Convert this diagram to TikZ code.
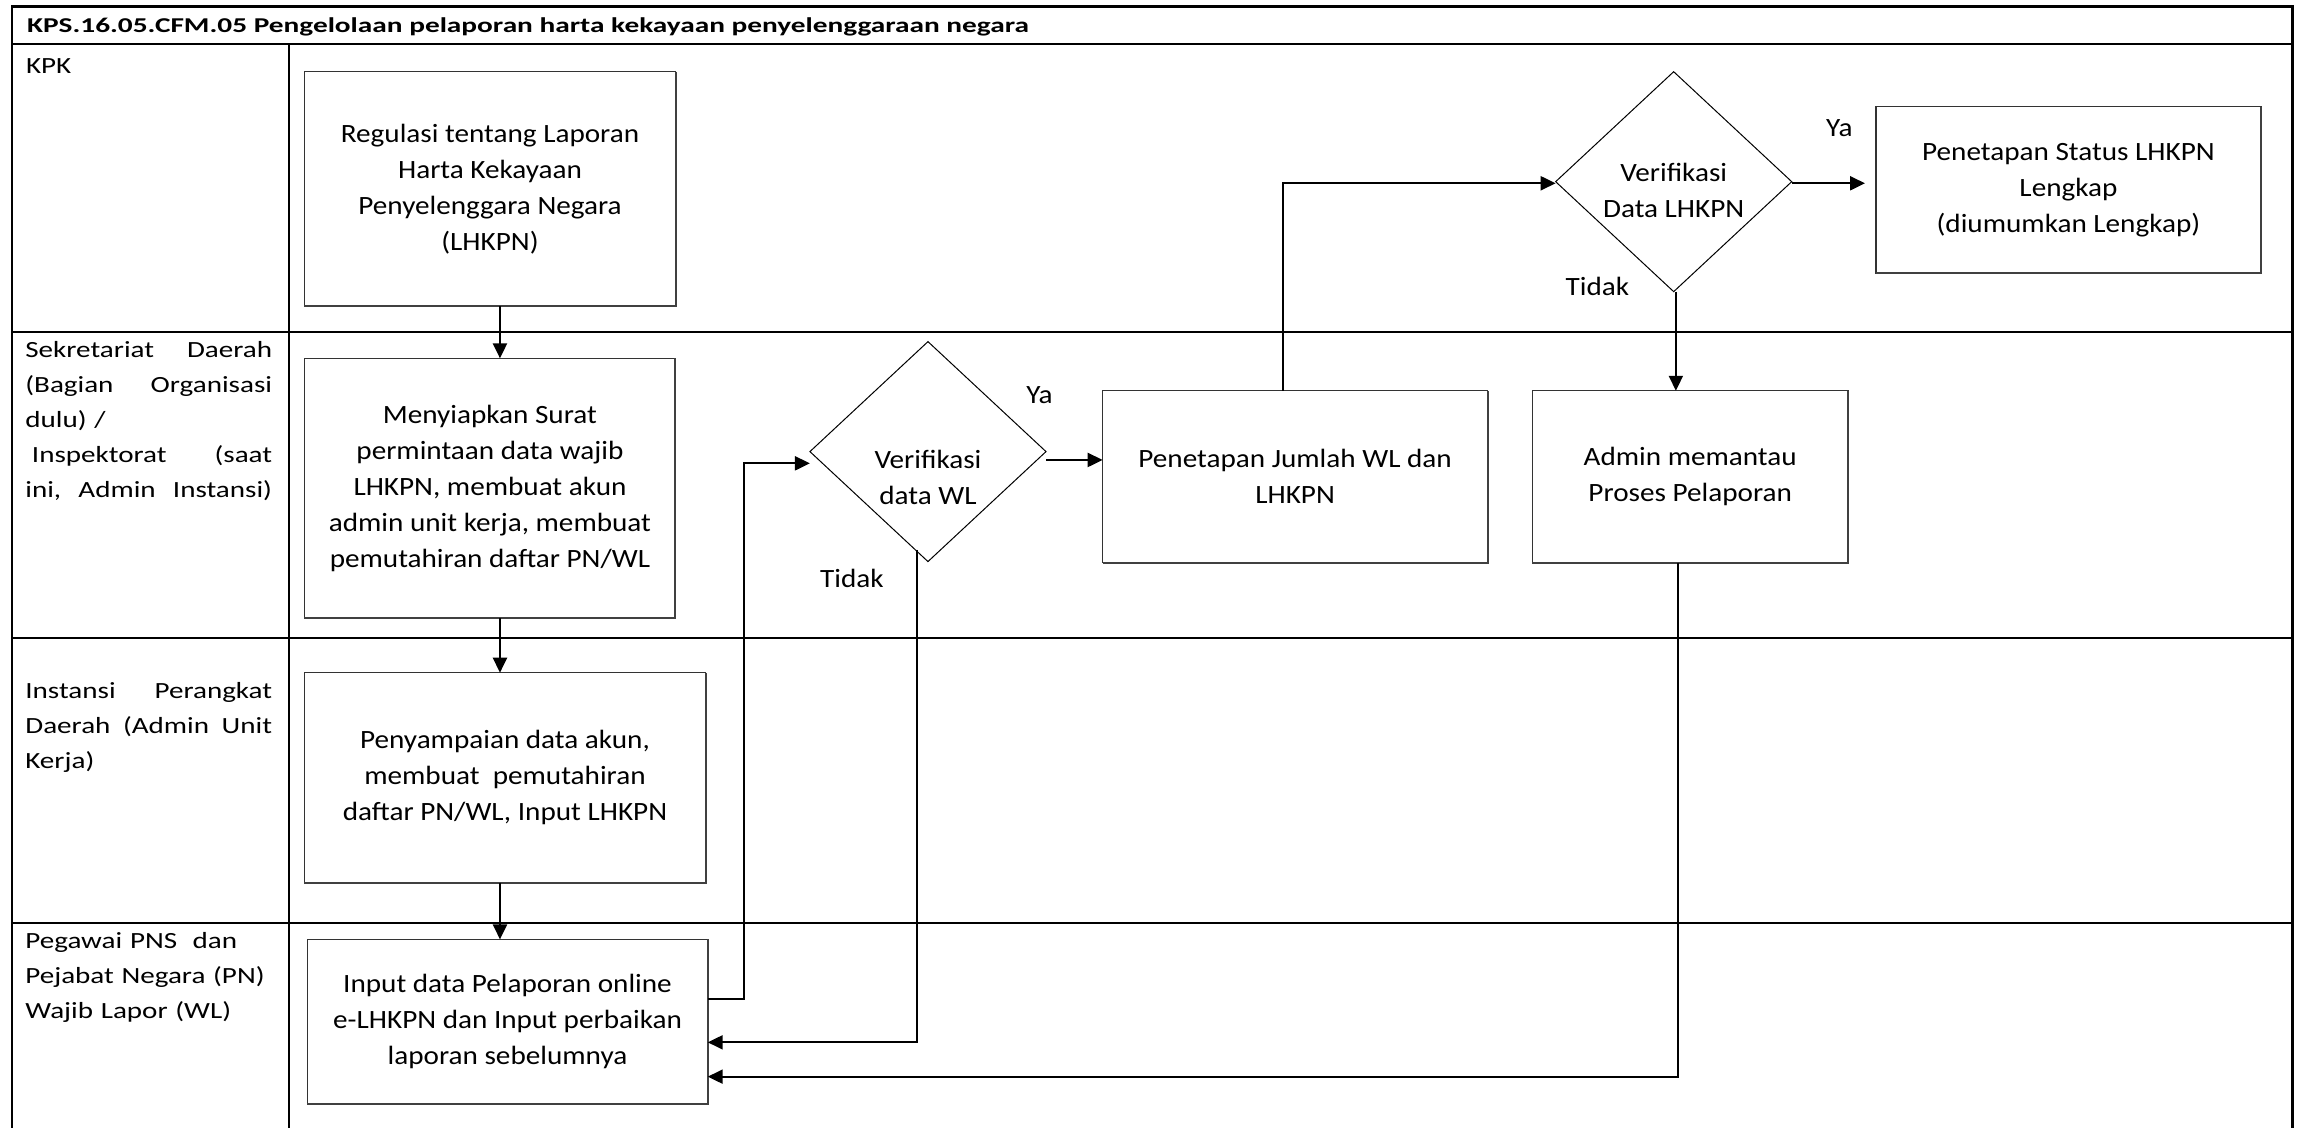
\documentclass[tikz,border=0pt]{standalone}
\usepackage{fontspec}
\setmainfont{Carlito}
\newfontfamily\boxff{Carlito}[FakeStretch=1.106]
\newfontfamily\laneff{Carlito}[FakeStretch=1.254]
\newfontfamily\titleff{Carlito}[FakeStretch=1.39]
\usetikzlibrary{arrows.meta,shapes.geometric}
\newcommand\boxfs{\boxff\fontsize{13.2}{18}\selectfont}
\newcommand\lanefs{\laneff\fontsize{11.6}{17.5}\selectfont}
\newcommand\titlefs{\titleff\bfseries\fontsize{10.55}{13}\selectfont}
\newcommand\jl[1]{\leavevmode\hbox to 123.4pt{#1}}
\def\uu{0.7334pt}
\begin{document}
\begin{tikzpicture}[x=0.7334pt,y=-0.7334pt,
  lanel/.style={line width=1.1pt},
  procbox/.style={draw=black!80, line width=0.6pt, align=center, inner sep=0pt, outer sep=0pt, font=\boxfs},
  boxedge/.style={draw=black!75, line width=1pt},
  decis/.style={diamond, draw, line width=0.5pt, inner sep=0pt, outer sep=0pt, minimum width={161*\uu}, minimum height={150*\uu}},
  flow/.style={line width=1.1pt, -{Triangle[length=7.5pt,width=7pt]}},
  lanetxt/.style={anchor=base west, inner sep=0pt, font=\lanefs, text width=123.4pt, align=left},
  note/.style={inner sep=0pt, font=\boxfs}
]
\useasboundingbox (0,0) rectangle (1568,769);

% swimlane frame
\draw[lanel, line width=1.2pt] (8,769) -- (8,4.5) -- (1563.6,4.5) -- (1563.6,769);
\draw[lanel, line width=1.2pt] (8,29.8) -- (1563.6,29.8);
\draw[lanel] (8,226.7) -- (1563.6,226.7);
\draw[lanel] (8,434.9) -- (1563.6,434.9);
\draw[lanel] (8,629.3) -- (1563.6,629.3);
\draw[line width=0.9pt] (197.3,29.8) -- (197.3,769);

% title and lane labels
\node[anchor=base west, inner sep=0pt, font=\titlefs] (title) at (18.2,22)
  {KPS.16.05.CFM.05 Pengelolaan pelaporan harta kekayaan penyelenggaraan negara};
\node[lanetxt] (lane1) at (17.5,50) {KPK};
\node[lanetxt] (lane2) at (17.05,243.7) {%
  \jl{Sekretariat\hfill Daerah}\\
  \jl{(Bagian\hfill Organisasi}\\
  dulu) /\\
  \jl{\hspace{3.3pt}Inspektorat\hfill (saat}\\
  \jl{ini,\hfill Admin\hfill Instansi)}};
\node[lanetxt] (lane3) at (17.05,476.7) {%
  \jl{Instansi\hfill Perangkat}\\
  \jl{Daerah\hfill (Admin\hfill Unit}\\
  Kerja)};
\node[lanetxt] (lane4) at (17.05,647.2) {%
  Pegawai PNS\ \ dan\\
  Pejabat Negara (PN)\\
  Wajib Lapor (WL)};

% process boxes
\node[procbox, minimum width={253.1*\uu}, minimum height={159.8*\uu}] (reg) at (334.2,128.8)
  {Regulasi tentang Laporan\\Harta Kekayaan\\Penyelenggara Negara\\(LHKPN)};
\node[procbox, minimum width={253.1*\uu}, minimum height={177.3*\uu}] (siap) at (334.15,333.05)
  {Menyiapkan Surat\\permintaan data wajib\\LHKPN, membuat akun\\admin unit kerja, membuat\\pemutahiran daftar PN/WL};
\node[procbox, minimum width={273.6*\uu}, minimum height={143.2*\uu}] (samp) at (344.4,530.4)
  {Penyampaian data akun,\\membuat\ \ pemutahiran\\daftar PN/WL, Input LHKPN};
\node[procbox, minimum width={273.1*\uu}, minimum height={112.5*\uu}] (input) at (346.15,696.95)
  {Input data Pelaporan online\\e-LHKPN dan Input perbaikan\\laporan sebelumnya};
\node[procbox, minimum width={262.5*\uu}, minimum height={117.3*\uu}] (jml) at (883.3,325.15)
  {Penetapan Jumlah WL dan\\LHKPN};
\node[procbox, minimum width={215.5*\uu}, minimum height={117.3*\uu}] (admin) at (1152.75,325.15)
  {Admin memantau\\Proses Pelaporan};
\node[procbox, minimum width={262.5*\uu}, minimum height={113.6*\uu}] (status) at (1410.75,129.6)
  {Penetapan Status LHKPN\\Lengkap\\(diumumkan Lengkap)};
\foreach \b in {reg,siap,samp,input,jml,admin,status}
  \draw[boxedge] (\b.north east) -- (\b.south east) -- (\b.south west);

% decisions
\node[decis, label={[note, align=center, yshift=-12.7pt]center:Verifikasi\\data WL}] (dwl) at (632.9,308) {};
\node[decis, label={[note, align=center, yshift=-4.3pt]center:Verifikasi\\Data LHKPN}] (dlh) at (1141.5,123.9) {};

% branch labels
\node[note] (ya1) at (709,269.4) {Ya};
\node[note] (tidak1) at (581,394.5) {Tidak};
\node[note] (ya2) at (1254.5,87.5) {Ya};
\node[note] (tidak2) at (1089.5,195.5) {Tidak};

% helper coordinates
\coordinate (cxa) at (341,0);
\coordinate (d1) at (507.7,681.6);
\coordinate (d2) at (507.7,316);
\coordinate (e1) at (0,313.7);
\coordinate (f1) at (625.3,375);
\coordinate (f2) at (625.3,710.9);
\coordinate (g1) at (874.8,125);
\coordinate (ix) at (1143,0);
\coordinate (j1) at (1144.5,734.3);

% connectors
\draw[flow] (reg.south -| cxa) -- (siap.north -| cxa);
\draw[flow] (siap.south -| cxa) -- (samp.north -| cxa);
\draw[flow] (samp.south -| cxa) -- (input.north -| cxa);
\draw[flow] (input.east |- d1) -- (d1) -- (d2) -- (dwl.west |- d2);
\draw[flow] (dwl.east |- e1) -- (jml.west |- e1);
\draw[flow] (f1) -- (f2) -- (input.east |- f2);
\draw[flow] (jml.north -| g1) -- (g1) -- (dlh.west |- g1);
\draw[flow, shorten >=5.5pt] (dlh.east |- g1) -- (status.west |- g1);
\draw[flow] (dlh.south -| ix) -- (admin.north -| ix);
\draw[flow] (admin.south -| j1) -- (j1) -- (input.east |- j1);
\end{tikzpicture}
\end{document}
